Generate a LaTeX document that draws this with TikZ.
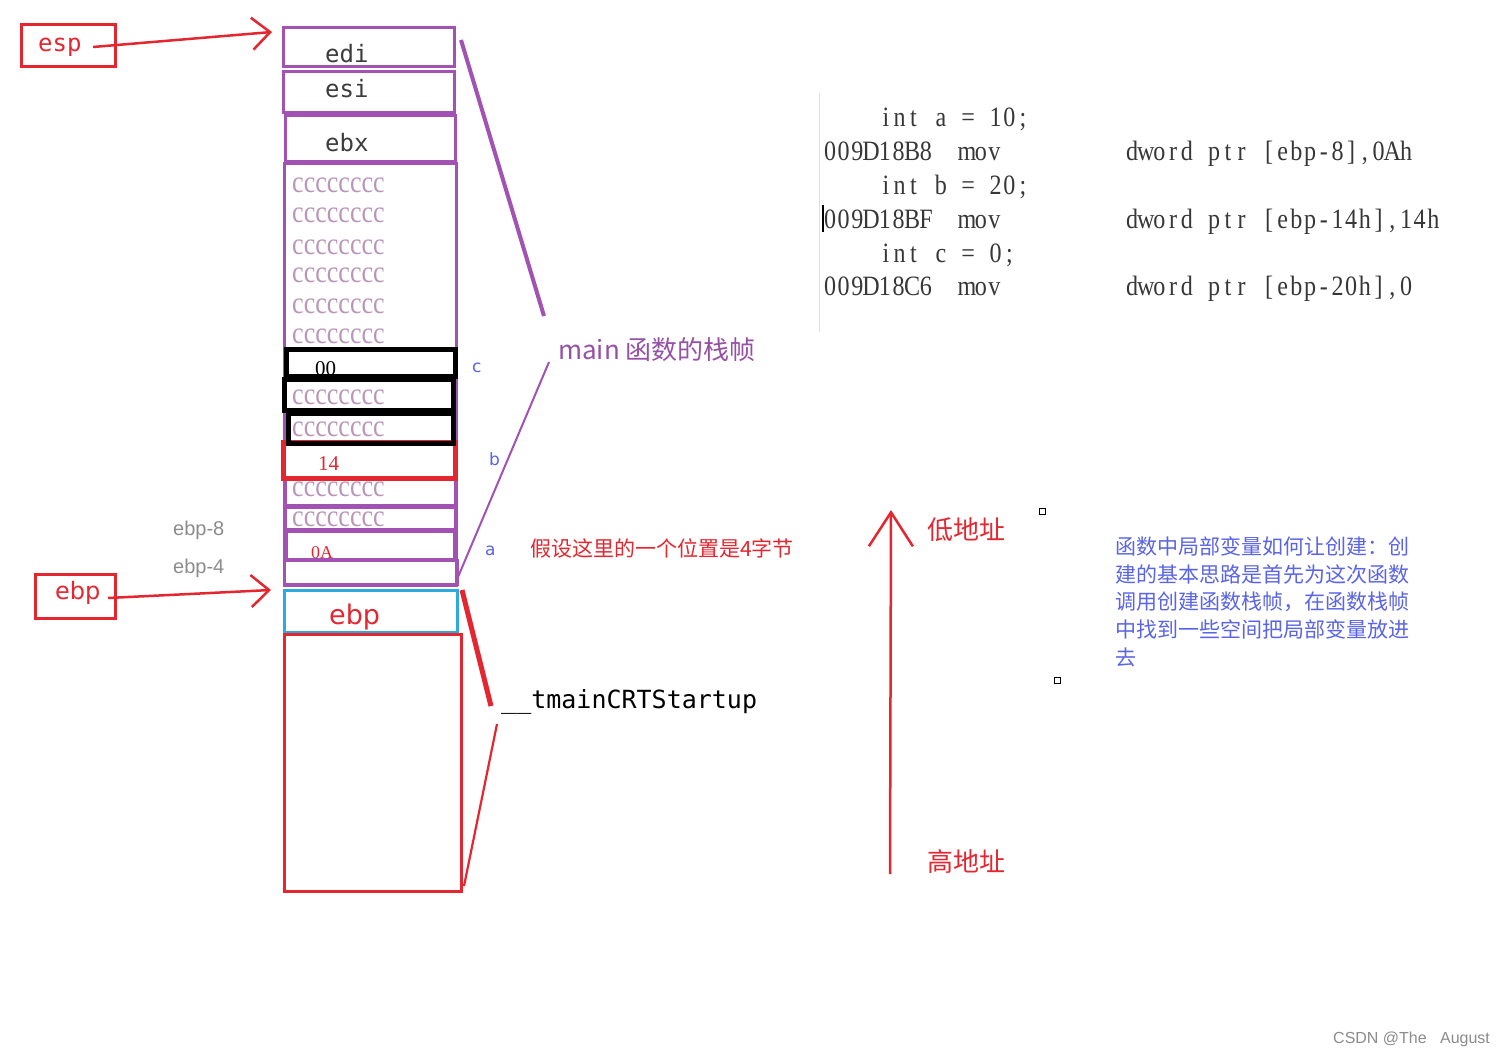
\documentclass[tikz,border=0pt]{standalone}
\usepackage{fontspec}
\usetikzlibrary{arrows.meta}
\setmainfont{Liberation Serif}
\newfontfamily\cjk{Noto Sans CJK SC}
\newfontfamily\codefont[FakeStretch=0.86]{Liberation Serif}
\newfontfamily\ccfont[FakeStretch=0.84]{Liberation Serif}
\newfontfamily\regfont{DejaVu Sans Mono}
\newfontfamily\lblfont{DejaVu Sans}
\newfontfamily\armfont{Liberation Sans}
\newcommand\fsz[1]{\fontsize{#1pt}{#1pt}\selectfont}
\def\monoloop#1{\ifx\relax#1\else\makebox[13.7pt]{#1}\expandafter\monoloop\fi}
\newcommand\mono[1]{\monoloop#1\relax}
\definecolor{myred}{RGB}{228,38,48}
\definecolor{mypurple}{RGB}{162,82,178}
\definecolor{ccgray}{RGB}{185,150,185}
\definecolor{mycyan}{RGB}{45,170,220}
\definecolor{myblue}{RGB}{90,100,230}
\definecolor{lblpurple}{RGB}{150,80,165}
\definecolor{regtext}{RGB}{60,60,60}
\definecolor{codetext}{RGB}{55,55,55}
\begin{document}
\begin{tikzpicture}[x=1pt,y=-1pt,
  every node/.style={inner sep=0pt, anchor=base west},
  pbox/.style={draw=mypurple, line width=3pt},
  kbox/.style={draw=black, line width=5pt},
  rbox/.style={draw=myred, line width=3pt},
  reg/.style={font=\regfont\fsz{24}, text=regtext},
  cc/.style={font=\ccfont\fsz{31}, text=ccgray},
  val/.style={font=\fsz{21}},
  off/.style={font=\armfont\fsz{20}, text=black!45},
  var/.style={font=\lblfont\fsz{17}, text=myblue},
  code/.style={font=\codefont\fsz{28}, text=codetext},
  para/.style={font=\cjk\fsz{21}, text=myblue},
  redarrow/.style={draw=myred, line width=2.5pt, -{Straight Barb[length=18pt,width=32pt]}}
]
\useasboundingbox (0,0) rectangle (1511,1056);
\fill[white] (0,0) rectangle (1511,1056);

% ---- stack boxes ----
\draw[pbox] (283,28) rectangle (454,67);
\draw[pbox] (283,72) rectangle (454,113);
\draw[pbox] (285,116) rectangle (455,162);
\draw[pbox] (284,164) rectangle (456,585);
\draw[pbox] (285,478) rectangle (455,505);
\draw[pbox] (285,507) rectangle (455,529);
\draw[draw=mypurple, line width=4.5pt] (286,531) rectangle (455,560);
\draw[pbox] (284,560) rectangle (457,584);
\draw[draw=myred, line width=5pt] (283,442) rectangle (455,478);
\draw[kbox] (286,349) rectangle (455,376);
\draw[kbox] (284,379) rectangle (453,410);
\draw[kbox] (288,413) rectangle (453,443);
\draw[draw=mycyan, line width=3pt] (284,590) rectangle (457,632);
\draw[rbox] (284,634) rectangle (461,891);

% ---- register texts ----
\node[reg] (edi) at (325,63) {edi};
\node[reg] (esi) at (325,98) {esi};
\node[reg] (ebx) at (325,152) {ebx};
\foreach \yy/\nm in {193/c1,223/c2,255/c3,283/c4,313/c5,343/c6,404/c7,436/c8,496/c9,526/c10}
  \node[cc] (\nm) at (292,\yy) {cccccccc};
\node[val, text=black] (v00) at (315,375) {00};
\node[val, text=myred] (v14) at (318,470) {14};
\node[val, text=myred, font=\fsz{18}] (v0A) at (311,558) {0A};
\node[font=\lblfont\fsz{27}, text=myred] (ebpin) at (329,624) {ebp};

% ---- left pointers ----
\draw[rbox] (21,25) rectangle (115,67);
\node[font=\regfont\fsz{24}, text=myred] (esp) at (38,52) {esp};
\draw[rbox] (35,574) rectangle (115,618);
\node[font=\lblfont\fsz{24}, text=myred] (ebpl) at (55,599) {ebp};
\coordinate (espfrom) at (93,47);
\coordinate (espto) at (272,32);
\coordinate (ebpfrom) at (108,598);
\coordinate (ebpto) at (271,590);
\draw[redarrow] (espfrom) -- (espto);
\draw[redarrow] (ebpfrom) -- (ebpto);
\node[off] (ebp8) at (173,535) {ebp-8};
\node[off] (ebp4) at (173,573) {ebp-4};

% ---- variable labels ----
\node[var] (lc) at (472,372) {c};
\node[var] (lb) at (489,465) {b};
\node[var] (la) at (485,555) {a};

% ---- brace lines ----
\coordinate (m1) at (461,40);
\coordinate (m2) at (544,316);
\coordinate (m3) at (549,362);
\coordinate (m4) at (458,577);
\draw[draw=mypurple, line width=4pt] (m1) -- (m2);
\draw[draw=mypurple, line width=2pt] (m3) -- (m4);
\node[font=\cjk\fsz{26}, text=lblpurple] (mainlbl) at (558,359) {main 函数的栈帧};
\coordinate (t1) at (462,590);
\coordinate (t2) at (491,706);
\coordinate (t3) at (497,724);
\coordinate (t4) at (464,886);
\draw[draw=myred, line width=5pt] (t1) -- (t2);
\draw[draw=myred, line width=2.2pt] (t3) -- (t4);
\node[font=\regfont\fsz{25}, text=black] (crt) at (501,708) {\_\_tmainCRTStartup};
\node[font=\cjk\fsz{21}, text=myred] (assume) at (530,556) {假设这里的一个位置是4字节};

% ---- code ----
\draw[black!12, line width=1pt] (819,93) -- (819,332);
\draw[black, line width=2pt] (823,205) -- (823,232);
\node[code] (l1) at (879,127) {\mono{int~a~=~10;}};
\node[code] (l2a) at (823,161) {\mono{009D18B8}};
\node[code] (l2b) at (960,161) {\mono{mov}};
\node[code] (l2c) at (1125,161) {\mono{dword~ptr~[ebp-8],0Ah}};
\node[code] (l3) at (879,195) {\mono{int~b~=~20;}};
\node[code] (l4a) at (823,229) {\mono{009D18BF}};
\node[code] (l4b) at (960,229) {\mono{mov}};
\node[code] (l4c) at (1125,229) {\mono{dword~ptr~[ebp-14h],14h}};
\node[code] (l5) at (879,263) {\mono{int~c~=~0;}};
\node[code] (l6a) at (823,296) {\mono{009D18C6}};
\node[code] (l6b) at (960,296) {\mono{mov}};
\node[code] (l6c) at (1125,296) {\mono{dword~ptr~[ebp-20h],0}};

% ---- address arrow ----
\coordinate (abot) at (890,874);
\coordinate (atop) at (891,510);
\draw[draw=myred, line width=2.5pt, -{Straight Barb[length=34pt,width=44pt]}] (abot) -- (atop);
\node[font=\cjk\fsz{26}, text=myred] (low) at (927,539) {低地址};
\node[font=\cjk\fsz{26}, text=myred] (high) at (927,871) {高地址};
\draw[black, line width=1pt] (1039,508) rectangle (1045,514);
\draw[black, line width=1pt] (1054,677) rectangle (1060,683);

% ---- paragraph ----
\node[para] (p1) at (1115,554) {函数中局部变量如何让创建：创};
\node[para] (p2) at (1115,582) {建的基本思路是首先为这次函数};
\node[para] (p3) at (1115,609) {调用创建函数栈帧，在函数栈帧};
\node[para] (p4) at (1115,637) {中找到一些空间把局部变量放进};
\node[para] (p5) at (1115,665) {去};

% ---- watermark ----
\node[font=\armfont\fsz{16}, text=black!45] (wm) at (1333,1043) {CSDN @The\ \ \ August};
\end{tikzpicture}
\end{document}
